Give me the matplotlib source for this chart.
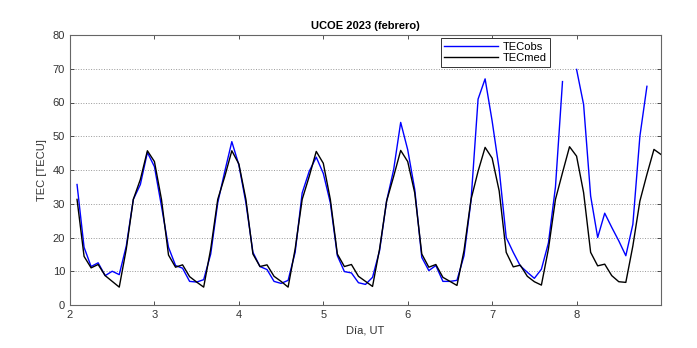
import numpy as np
from matplotlib import pyplot as plt

# two-hourly samples, 2 Feb 02 UT ... 9 Feb 00 UT
hours = np.arange(1, 85) * 2
days = 2 + hours / 24.0

tec_med = [
    31.3, 14.4, 11.0, 12.0, 8.7, 7.0, 5.3, 16.6, 31.3, 37.2, 45.7, 42.5,
    31.3, 14.8, 11.2, 11.9, 8.4, 6.8, 5.3, 16.6, 31.3, 38.1, 45.7, 41.8,
    31.3, 15.1, 11.4, 11.9, 8.5, 7.0, 5.3, 16.6, 31.3, 38.1, 45.5, 42.0,
    31.3, 15.1, 11.4, 12.0, 8.5, 7.0, 5.5, 16.6, 30.8, 38.1, 45.8, 42.5,
    33.2, 15.1, 11.2, 12.0, 8.2, 7.0, 5.8, 16.1, 31.3, 39.6, 46.7, 43.5,
    33.8, 15.6, 11.3, 11.8, 8.5, 6.9, 5.9, 16.6, 31.3, 39.2, 46.9, 44.1,
    33.3, 15.6, 11.6, 12.1, 8.7, 6.9, 6.7, 17.5, 30.8, 38.7, 46.1, 44.6]

nan = np.nan
tec_obs = [
    35.7, 17.1, 11.4, 12.5, 8.7, 10.0, 9.0, 17.5, 31.3, 35.7, 45.2, 41.0,
    29.3, 17.1, 11.7, 10.9, 7.0, 6.8, 7.5, 15.1, 30.3, 39.6, 48.4, 41.5,
    30.3, 15.6, 11.4, 10.5, 7.0, 6.4, 7.3, 15.6, 33.2, 39.6, 43.8, 39.0,
    30.3, 14.6, 9.9, 9.5, 6.6, 6.1, 8.2, 16.1, 30.8, 40.1, 54.1, 46.0,
    34.2, 14.1, 10.2, 11.7, 7.0, 7.0, 7.3, 14.6, 31.0, 61.0, 67.0, 54.5,
    40.2, 20.0, 15.6, 11.6, 9.7, 7.9, 10.6, 18.4, 35.0, 66.2, nan, 69.8,
    59.4, 32.3, 20.0, 27.2, 23.0, 19.0, 14.6, 23.9, 50.0, 64.8, nan, nan]

plt.rcParams['font.family'] = ['Liberation Sans', 'DejaVu Sans']
plt.rcParams['font.size'] = 8

fig = plt.figure(figsize=(6.97, 3.48), dpi=100)
ax = fig.add_axes([70 / 697, 43 / 348, 591 / 697, 270 / 348])

ax.plot(days, tec_obs, color='#0000ff', lw=1.0, label='TECobs')
ax.plot(days, tec_med, color='black', lw=1.0, label='TECmed')

ax.set_xlim(2, 9)
ax.set_ylim(0, 80)
ax.set_xticks(range(2, 9))
ax.set_yticks(range(0, 81, 10))
ax.yaxis.grid(True, linestyle=':', color='#999999', lw=0.7)
ax.tick_params(direction='in', top=True, right=True, colors='#333333',
               length=3, width=0.6, labelsize=8)
for s in ax.spines.values():
    s.set_color('#666666')
    s.set_linewidth(0.8)

ax.set_title('UCOE 2023 (febrero)', fontsize=8, fontweight='bold', pad=4)
ax.set_xlabel('Día, UT', fontsize=8, color='#333333')
ax.set_ylabel('TEC [TECU]', fontsize=8, color='#333333')

leg = ax.legend(loc='upper left', bbox_to_anchor=(0.628, 0.988), fancybox=False,
                edgecolor='#333333', framealpha=1, handlelength=4.8,
                borderpad=0.3, labelspacing=0.15, handletextpad=0.4,
                borderaxespad=0, fontsize=8)
leg.get_frame().set_linewidth(0.7)

plt.savefig('out.png', dpi=100)
